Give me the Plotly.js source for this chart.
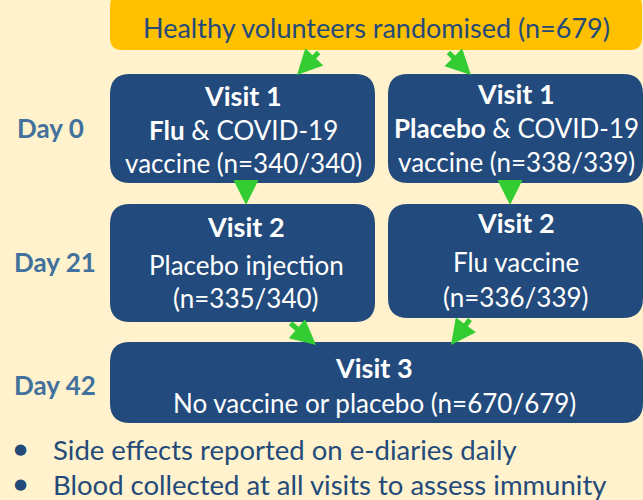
<!DOCTYPE html>
<html>
<head>
<meta charset="utf-8">
<script src="https://cdn.plot.ly/plotly-3.0.1.min.js"></script>
<style>html,body{margin:0;padding:0;background:#FFF2CC;}#chart{width:643px;height:500px;}</style>
</head>
<body>
<div id="chart"></div>
<script>
// ---- data ----
const randomisedN = 679;
const dayLabels = ['Day 0', 'Day 21', 'Day 42'];
const visitTitles = ['Visit 1', 'Visit 1', 'Visit 2', 'Visit 2', 'Visit 3'];
const visitLine1 = ['<b>Flu</b> & COVID-19', '<b>Placebo</b> & COVID-19', 'Placebo injection', 'Flu vaccine', ''];
const visitLine2Prefix = ['vaccine ', 'vaccine ', '', '', 'No vaccine or placebo '];
const nAttended = [340, 338, 335, 336, 670];
const nAllocated = [340, 339, 340, 339, 679];
const bulletNotes = ['Side effects reported on e-diaries daily', 'Blood collected at all visits to assess immunity'];

// ---- layout geometry (pixels) ----
const boxes = [
  {x0:110, x1:375, y0:74, y1:183, cx:243, ys:[95,130,163]},
  {x0:388, x1:643, y0:74, y1:183, cx:516, ys:[93,128,162]},
  {x0:110, x1:375, y0:204, y1:322, cx:246, ys:[226,265,298]},
  {x0:388, x1:643, y0:204, y1:318, cx:516, ys:[222,262,297]},
  {x0:110, x1:643, y0:342, y1:423, cx:374, ys:[367,403]}
];
const dayPos = [{x:50,y:128},{x:55,y:262},{x:55,y:385}];
const arrows = [
  [320,51,297,75],[447,51,471,75],
  [246,183,246,205],[510,183,510,205],
  [289,322,316,345],[471,318,451,345]
];

const navy = '#224A7C', textNavy = '#244A7A', gold = '#FFC000', green = '#33CC33';
const FONT = 'Lato, "Open Sans", sans-serif';

function rr(x0,y0,x1,y1,r){
  return `M${x0+r},${y0} L${x1-r},${y0} Q${x1},${y0} ${x1},${y0+r} L${x1},${y1-r} Q${x1},${y1} ${x1-r},${y1} L${x0+r},${y1} Q${x0},${y1} ${x0},${y1-r} L${x0},${y0+r} Q${x0},${y0} ${x0+r},${y0} Z`;
}

const shapes = [];
const annotations = [];

// top box
shapes.push({type:'path', xref:'x', yref:'y', path:rr(110,-6,642,50,12), fillcolor:gold, line:{width:0}, layer:'below'});
annotations.push({x:376, y:27, xref:'x', yref:'y', showarrow:false, text:`Healthy volunteers randomised (n=${randomisedN})`, font:{family:FONT, size:27, color:textNavy}});

boxes.forEach((b,i)=>{
  shapes.push({type:'path', xref:'x', yref:'y', path:rr(b.x0,b.y0,b.x1,b.y1,20), fillcolor:navy, line:{width:0}, layer:'below'});
  const lines = [`<b>${visitTitles[i]}</b>`];
  if (visitLine1[i]) lines.push(visitLine1[i]);
  lines.push(`${visitLine2Prefix[i]}(n=${nAttended[i]}/${nAllocated[i]})`);
  lines.forEach((t,k)=>{
    annotations.push({x:b.cx, y:b.ys[k], xref:'x', yref:'y', showarrow:false, text:t, font:{family:FONT, size:k===0?27:26, color:'#FFFFFF'}});
  });
});

dayLabels.forEach((d,i)=>{
  annotations.push({x:dayPos[i].x, y:dayPos[i].y, xref:'x', yref:'y', showarrow:false, text:`<b>${d}</b>`, font:{family:FONT, size:26, color:'#41719C'}});
});

arrows.forEach(a=>{
  annotations.push({x:a[2], y:a[3], ax:a[0], ay:a[1], xref:'x', yref:'y', axref:'x', ayref:'y', showarrow:true, arrowhead:2, arrowsize:1.0, arrowwidth:5, arrowcolor:green, text:''});
});

bulletNotes.forEach((t,i)=>{
  const y = 449 + i*35;
  annotations.push({x:20, y:y, xref:'x', yref:'y', showarrow:false, text:'●', font:{family:'DejaVu Sans', size:15, color:textNavy}});
  annotations.push({x:51, y:y, xref:'x', yref:'y', xanchor:'left', showarrow:false, text:t, font:{family:FONT, size:27.5, color:textNavy}});
});

const layout = {
  width:643, height:500,
  margin:{l:0,r:0,t:0,b:0},
  paper_bgcolor:'#FFF2CC', plot_bgcolor:'#FFF2CC',
  xaxis:{range:[0,643], visible:false, fixedrange:true},
  yaxis:{range:[500,0], visible:false, fixedrange:true},
  shapes:shapes, annotations:annotations, showlegend:false
};
Plotly.newPlot('chart', [], layout, {displayModeBar:false, staticPlot:true});
</script>
</body>
</html>
